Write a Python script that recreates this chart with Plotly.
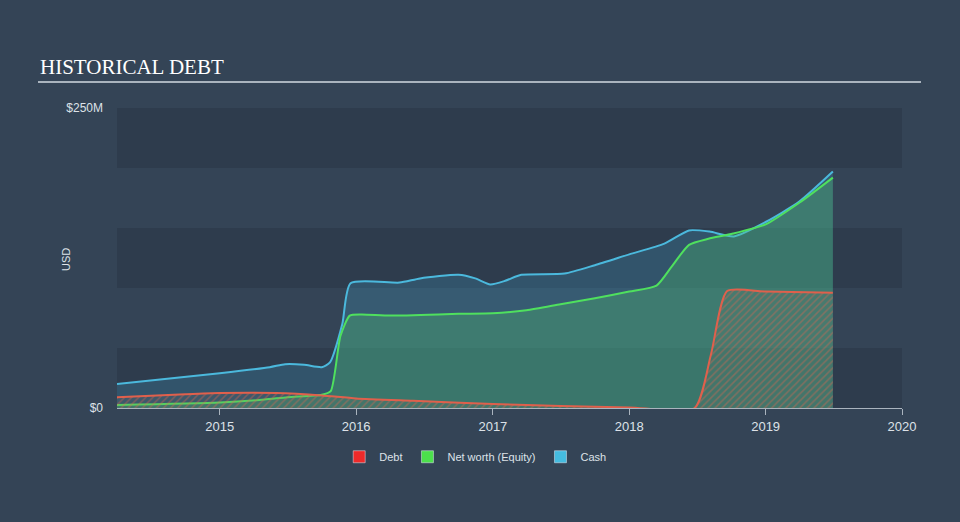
import plotly.graph_objects as go

# ---- data (values in USD millions) ----
cash_dates = ["2014-04-01", "2015-01-01", "2015-05-15", "2015-06-25", "2015-08-15", "2015-10-01",
              "2015-10-23", "2015-11-25", "2015-12-17", "2016-04-26", "2016-06-20", "2016-10-01",
              "2016-11-15", "2016-12-25", "2017-02-03", "2017-03-18", "2017-07-12", "2017-10-01",
              "2018-01-01", "2018-04-05", "2018-06-10", "2018-08-04", "2018-10-08", "2019-01-01",
              "2019-04-01", "2019-06-30"]
cash_vals = [20, 29, 34, 36.5, 36, 34, 38, 70, 104, 104.5, 108, 111, 108, 103, 106, 111, 112, 119,
             128, 137, 148, 147, 143, 155, 172, 197]

nw_dates = ["2014-04-01", "2015-01-01", "2015-05-01", "2015-07-01", "2015-10-01", "2015-10-25",
            "2015-11-20", "2015-12-15", "2016-01-15", "2016-04-01", "2016-10-01", "2017-01-01",
            "2017-04-01", "2017-07-01", "2017-10-01", "2018-01-01", "2018-03-15", "2018-04-25",
            "2018-06-10", "2018-08-01", "2018-10-01", "2019-01-01", "2019-04-01", "2019-06-30"]
nw_vals = [2.5, 4.5, 7, 9, 11, 14, 60, 77, 78, 77, 78.5, 79, 81.5, 86.5, 91.5, 97, 102, 118,
           136, 141, 145, 153, 171, 192]

debt_dates = ["2014-04-01", "2014-10-01", "2015-01-01", "2015-06-01", "2015-10-01", "2016-01-01",
              "2016-06-01", "2017-01-01", "2017-07-01", "2018-01-01", "2018-06-25", "2018-08-08",
              "2018-09-20", "2019-01-01", "2019-06-30"]
debt_vals = [9, 11.5, 12.5, 12.5, 10.5, 8, 6, 3.3, 1.7, 0.5, 0, 45, 97.5, 97, 96]

y_tick_vals = [0, 250]
y_tick_text = ["$0", "$250M"]
x_tick_vals = ["2015-01-01", "2016-01-01", "2017-01-01", "2018-01-01", "2019-01-01", "2020-01-01"]
x_tick_text = ["2015", "2016", "2017", "2018", "2019", "2020"]

BG = "#344456"
BAND = "#2e3c4d"
TXT = "#dde2e8"

fig = go.Figure()

fig.add_trace(go.Scatter(x=cash_dates, y=cash_vals, mode="lines", fill="tozeroy",
                         line=dict(color="#4bb9dd", width=2, shape="spline", smoothing=0.6),
                         fillcolor="rgba(70,175,215,0.22)", showlegend=False, hoverinfo="skip"))
fig.add_trace(go.Scatter(x=nw_dates, y=nw_vals, mode="lines", fill="tozeroy",
                         line=dict(color="#4fe05e", width=2, shape="spline", smoothing=0.6),
                         fillcolor="rgba(80,200,110,0.3)", showlegend=False, hoverinfo="skip"))
fig.add_trace(go.Scatter(x=debt_dates, y=debt_vals, mode="lines", fill="tozeroy",
                         line=dict(color="#e0604c", width=2, shape="spline", smoothing=0.6),
                         fillcolor="rgba(0,0,0,0)",
                         fillpattern=dict(shape="/", fgcolor="rgba(230,100,80,0.75)",
                                          bgcolor="rgba(120,110,100,0.15)", size=5, solidity=0.3),
                         showlegend=False, hoverinfo="skip"))

# legend-only swatches
for name, col in [("Debt", "#ee2a2a"), ("Net worth (Equity)", "#4ce04c"), ("Cash", "#45bce0")]:
    fig.add_trace(go.Bar(x=[None], y=[None], name=name, marker=dict(color=col), showlegend=True))

# alternating bands
shapes = []
for lo, hi in [(0, 50), (100, 150), (200, 250)]:
    shapes.append(dict(type="rect", xref="paper", yref="y", x0=0, x1=1, y0=lo, y1=hi,
                       fillcolor=BAND, line=dict(width=0), layer="below"))
# title underline
shapes.append(dict(type="line", xref="paper", yref="paper", x0=-79/785, x1=(921-117)/785,
                   y0=(522-82-114)/300, y1=(522-82-114)/300,
                   line=dict(color="#aab4be", width=2)))

fig.update_layout(
    width=960, height=522,
    paper_bgcolor=BG, plot_bgcolor=BG,
    margin=dict(l=117, r=58, t=108, b=114, autoexpand=False),
    font=dict(family="Liberation Sans, Arial, sans-serif", color=TXT, size=13),
    shapes=shapes,
    showlegend=True,
    legend=dict(orientation="h", xref="container", yref="container", x=0.495, y=0.125,
                xanchor="center", yanchor="middle", font=dict(size=11, color=TXT),
                bgcolor="rgba(0,0,0,0)", itemclick=False),
    annotations=[
        dict(text="HISTORICAL DEBT", xref="paper", yref="paper", x=-79/785, y=(522-67-114)/300,
             xanchor="left", yanchor="middle", showarrow=False,
             font=dict(family="Liberation Serif, Times New Roman, serif", size=21, color="#ffffff")),
        dict(text="USD", xref="paper", yref="paper", x=-51/785, y=(522-260-114)/300,
             xanchor="center", yanchor="middle", showarrow=False, textangle=-90,
             font=dict(size=11, color=TXT)),
    ],
)

fig.update_xaxes(type="date", range=["2014-04-01", "2020-01-01"], tickvals=x_tick_vals,
                 ticktext=x_tick_text, showgrid=False, zeroline=False, showline=True,
                 linecolor="#aab4be", linewidth=1, ticks="outside", ticklen=6, tickcolor="#aab4be",
                 tickfont=dict(size=13, color=TXT))
fig.update_yaxes(range=[0, 250], tickvals=y_tick_vals, ticktext=y_tick_text, showgrid=False,
                 zeroline=False, showline=False, ticks="", ticklabelstandoff=13,
                 tickfont=dict(size=12, color=TXT))

fig.write_html("out.html", config={"displayModeBar": False},
               post_script="document.body.style.margin='0';document.body.style.background='" + BG + "';")
